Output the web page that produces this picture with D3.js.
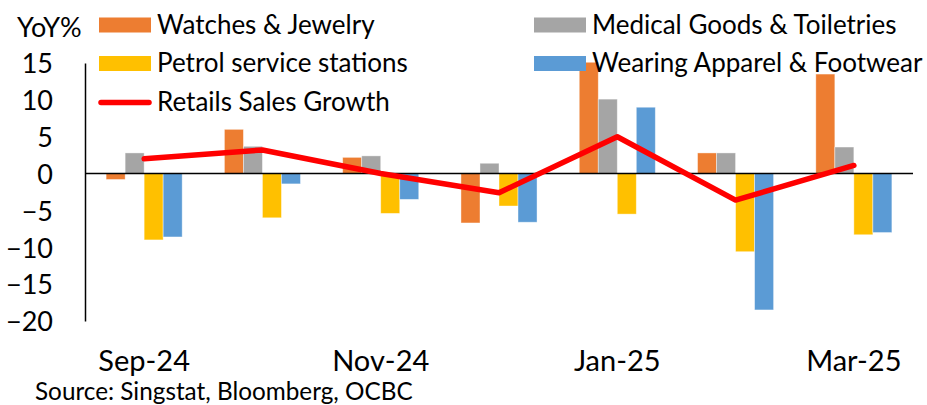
<!DOCTYPE html>
<html>
<head>
<meta charset="utf-8">
<script src="https://cdn.jsdelivr.net/npm/d3@7"></script>
<style>
  body { margin: 0; background: #fff; }
  svg { display: block; font-family: Lato, "Liberation Sans", sans-serif; }
</style>
</head>
<body>
<div id="chart"></div>
<script>
const categories = ['Sep-24', 'Oct-24', 'Nov-24', 'Dec-24', 'Jan-25', 'Feb-25', 'Mar-25'];
const shownLabels = ['Sep-24', 'Nov-24', 'Jan-25', 'Mar-25'];
const yTicks = [15, 10, 5, 0, -5, -10, -15, -20];

const watches = [-0.8, 6.0, 2.2, -6.7, 15.1, 2.8, 13.5];
const medical = [2.8, 3.7, 2.4, 1.4, 10.1, 2.8, 3.6];
const petrol = [-9.0, -6.0, -5.4, -4.4, -5.5, -10.6, -8.3];
const apparel = [-8.6, -1.4, -3.5, -6.6, 9.0, -18.5, -8.0];
const retail = [2.0, 3.2, 0.0, -2.6, 5.0, -3.6, 1.1];

const barSeries = [
  {name: 'Watches & Jewelry', values: watches, color: '#ED7D31'},
  {name: 'Medical Goods & Toiletries', values: medical, color: '#A5A5A5'},
  {name: 'Petrol service stations', values: petrol, color: '#FFC000'},
  {name: 'Wearing Apparel & Footwear', values: apparel, color: '#5B9BD5'},
];
const lineSeries = {name: 'Retails Sales Growth', values: retail, color: '#FF0000'};

const W = 927, H = 405;
const pad = {l: 85, r: 14, t: 63, b: 84};
const iw = W - pad.l - pad.r;
const ih = H - pad.t - pad.b;

const svg = d3.select('#chart').append('svg')
  .attr('width', W)
  .attr('height', H);

const chart = svg.append('g')
  .attr('transform', `translate(${pad.l}, ${pad.t})`);

const x0 = d3.scaleBand()
  .domain(categories)
  .range([0, iw])
  .paddingInner(0.357)
  .paddingOuter(0.1785);

const x1 = d3.scaleBand()
  .domain(barSeries.map(s => s.name))
  .range([0, x0.bandwidth()]);

const y = d3.scaleLinear()
  .domain([-20, 15])
  .range([ih, 0]);

// bars
const groups = chart.selectAll('.series')
  .data(barSeries)
  .enter().append('g')
  .attr('class', 'series')
  .attr('fill', s => s.color);

groups.selectAll('rect')
  .data(s => s.values.map((v, i) => ({cat: categories[i], v, name: s.name})))
  .enter().append('rect')
  .attr('x', d => x0(d.cat) + x1(d.name))
  .attr('width', x1.bandwidth())
  .attr('y', d => y(Math.max(0, d.v)))
  .attr('height', d => Math.abs(y(d.v) - y(0)))
  .attr('stroke', '#fff')
  .attr('stroke-opacity', 0.5)
  .attr('stroke-width', 0.8);

// zero line
chart.append('line')
  .attr('x1', 0).attr('x2', iw)
  .attr('y1', y(0)).attr('y2', y(0))
  .attr('stroke', '#000')
  .attr('stroke-width', 1.5);

// y axis
const yg = chart.append('g')
  .call(d3.axisLeft(y).tickValues(yTicks).tickSize(0).tickSizeOuter(0).tickPadding(32));
yg.select('.domain').attr('stroke', '#000').attr('stroke-width', 1.5);
yg.selectAll('text')
  .attr('font-size', 27)
  .attr('font-family', 'Lato, sans-serif')
  .attr('fill', '#000')
  .attr('dy', '0.36em');

// x axis (labels only, every other month)
const xg = chart.append('g')
  .attr('transform', `translate(0, ${ih})`)
  .call(d3.axisBottom(x0).tickSize(0).tickPadding(29)
    .tickFormat(d => shownLabels.includes(d) ? d : ''));
xg.select('.domain').remove();
xg.selectAll('text')
  .attr('font-size', 29)
  .attr('font-family', 'Lato, sans-serif')
  .attr('fill', '#000');

// retail sales line
const line = d3.line()
  .x((d, i) => x0(categories[i]) + x0.bandwidth() / 2)
  .y(d => y(d));

chart.append('path')
  .datum(lineSeries.values)
  .attr('d', line)
  .attr('fill', 'none')
  .attr('stroke', lineSeries.color)
  .attr('stroke-width', 5.5)
  .attr('stroke-linejoin', 'round')
  .attr('stroke-linecap', 'round');

// axis title
svg.append('text')
  .attr('x', 17).attr('y', 37)
  .attr('font-size', 27)
  .text('YoY%');

// legend
const legendItems = [
  {s: barSeries[0], col: 0, row: 0},
  {s: barSeries[1], col: 1, row: 0},
  {s: barSeries[2], col: 0, row: 1},
  {s: barSeries[3], col: 1, row: 1},
  {s: lineSeries, col: 0, row: 2, isLine: true},
];
const colX = [99, 534];
const rowY = [25, 63.5, 102.5];

const leg = svg.append('g').attr('class', 'legend');
const li = leg.selectAll('g')
  .data(legendItems)
  .enter().append('g')
  .attr('transform', d => `translate(${colX[d.col]}, ${rowY[d.row]})`);

li.filter(d => !d.isLine).append('rect')
  .attr('x', 0).attr('y', -7.5)
  .attr('width', 52).attr('height', 15)
  .attr('fill', d => d.s.color);

li.filter(d => d.isLine).append('line')
  .attr('x1', 2).attr('x2', 50)
  .attr('y1', 0).attr('y2', 0)
  .attr('stroke', d => d.s.color)
  .attr('stroke-width', 5.5)
  .attr('stroke-linecap', 'round');

li.append('text')
  .attr('x', 58)
  .attr('y', 8.5)
  .attr('font-size', 26)
  .text(d => d.s.name);

// source
svg.append('text')
  .attr('x', 35).attr('y', 400)
  .attr('font-size', 24.3)
  .text('Source: Singstat, Bloomberg, OCBC');
</script>
</body>
</html>
